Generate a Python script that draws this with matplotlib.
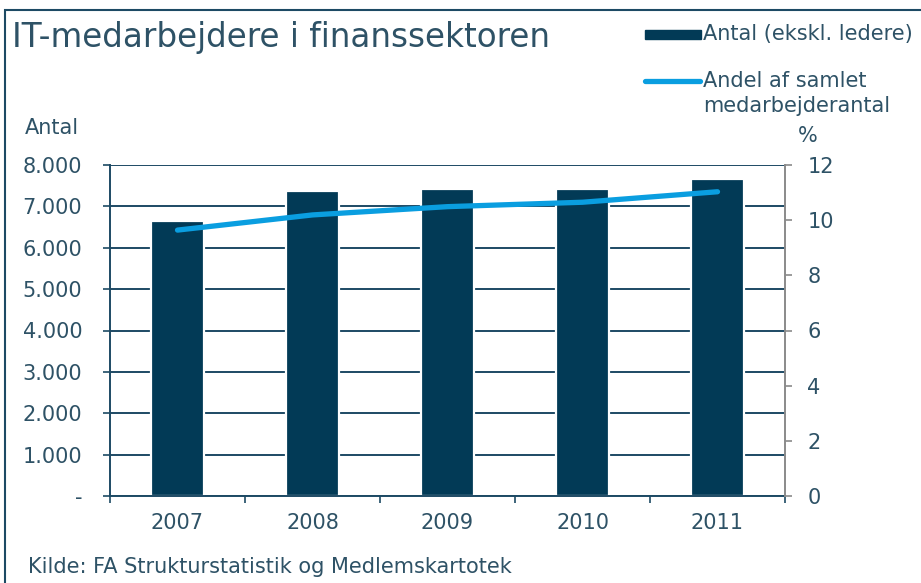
import matplotlib.pyplot as plt
import matplotlib.patches as mpatches
from matplotlib.lines import Line2D
from matplotlib.ticker import FuncFormatter, FixedLocator
import numpy as np

years = ["2007", "2008", "2009", "2010", "2011"]
antal = [6650, 7375, 7415, 7420, 7665]
andel = [9.64, 10.19, 10.49, 10.65, 11.03]

bar_color = "#023a56"
line_color = "#0a9ee0"
text_color = "#2e5266"
grid_color = "#1d4a64"
fs = 15

plt.rcParams['font.family'] = ['DejaVu Sans']

fig = plt.figure(figsize=(9.21, 5.83), dpi=100)
ax = fig.add_axes([110 / 921, 87 / 583, 675 / 921, 331 / 583])

x = np.arange(len(years))
ax.bar(x, antal, width=0.395, color=bar_color, edgecolor="white", linewidth=1.6, zorder=3)
ax.set_xlim(-0.5, len(years) - 0.5)
ax.set_ylim(0, 8000)
ax.set_yticks(np.arange(0, 8001, 1000))
ax.yaxis.set_major_formatter(FuncFormatter(
    lambda v, p: "-" if v == 0 else "{:,.0f}".format(v).replace(",", ".")))
ax.grid(axis="y", color=grid_color, lw=1.4, zorder=1)
ax.set_axisbelow(True)

ax.set_xticks(x)
ax.set_xticklabels(years)
ax.xaxis.set_minor_locator(FixedLocator(np.arange(-0.5, len(years), 1.0)))
ax.tick_params(axis="x", which="major", length=0, pad=12, labelsize=fs, labelcolor=text_color)
ax.tick_params(axis="x", which="minor", length=5, width=1.2, color=grid_color, direction="out")
ax.tick_params(axis="y", length=5, width=1.2, color=grid_color, direction="out",
               labelsize=fs, labelcolor=text_color, pad=15)

for s in ["left", "bottom"]:
    ax.spines[s].set_color(grid_color)
    ax.spines[s].set_linewidth(1.4)
    ax.spines[s].set_zorder(5)
ax.spines["top"].set_visible(False)
ax.spines["right"].set_visible(False)

ax2 = ax.twinx()
ax2.plot(x, andel, color=line_color, lw=3.8, solid_capstyle="round", zorder=4)
ax2.set_ylim(0, 12)
ax2.set_yticks(np.arange(0, 13, 2))
ax2.tick_params(axis="y", length=5, width=1.2, color="#8a8a8a", direction="out",
                labelsize=fs, labelcolor=text_color, pad=11)
for s in ["left", "bottom", "top"]:
    ax2.spines[s].set_visible(False)
ax2.spines["right"].set_color("#8a8a8a")
ax2.spines["right"].set_linewidth(1.4)

# outer frame
fig.add_artist(mpatches.Rectangle((5 / 921, -0.05), 1.2, (583 - 10) / 583 + 0.05,
                                  transform=fig.transFigure, fill=False,
                                  edgecolor=grid_color, lw=1.5))

fig.text(12 / 921, 1 - 38 / 583, "IT-medarbejdere i finanssektoren", fontsize=23.5,
         color=text_color, va="center", ha="left")
fig.text(25 / 921, 1 - 128 / 583, "Antal", fontsize=fs, color=text_color, va="center")
fig.text(808 / 921, 1 - 136 / 583, "%", fontsize=fs, color=text_color, va="center", ha="center")
fig.text(28 / 921, 1 - 567 / 583, "Kilde: FA Strukturstatistik og Medlemskartotek",
         fontsize=fs, color=text_color, va="center")

# legend
fig.add_artist(mpatches.Rectangle((645 / 921, 1 - 39 / 583), 56 / 921, 9 / 583,
                                  transform=fig.transFigure, color=bar_color))
fig.text(703 / 921, 1 - 34 / 583, "Antal (ekskl. ledere)", fontsize=fs,
         color=text_color, va="center")
fig.add_artist(Line2D([645 / 921, 700 / 921], [1 - 81 / 583, 1 - 81 / 583],
                      transform=fig.transFigure, color=line_color, lw=3.8,
                      solid_capstyle="round"))
fig.text(703 / 921, 1 - 81 / 583, "Andel af samlet", fontsize=fs,
         color=text_color, va="center")
fig.text(703 / 921, 1 - 106 / 583, "medarbejderantal", fontsize=fs,
         color=text_color, va="center")

fig.savefig("out.png", dpi=100)
